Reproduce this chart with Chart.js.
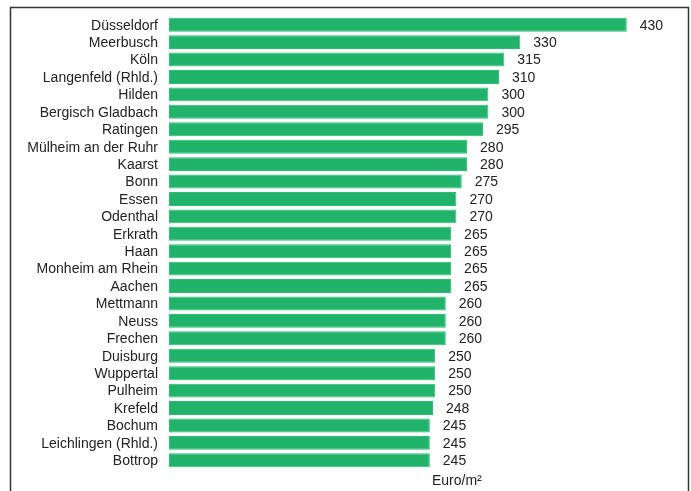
<!DOCTYPE html>
<html>
<head>
<meta charset="utf-8">
<script src="https://cdn.jsdelivr.net/npm/chart.js@4"></script>
<style>
  html, body { margin: 0; padding: 0; background: #fff; }
  #wrap { width: 691px; height: 491px; }
</style>
</head>
<body>
<div id="wrap"><canvas id="chart" width="691" height="491"></canvas></div>
<script>
const cities = ['Düsseldorf', 'Meerbusch', 'Köln', 'Langenfeld (Rhld.)', 'Hilden', 'Bergisch Gladbach',
  'Ratingen', 'Mülheim an der Ruhr', 'Kaarst', 'Bonn', 'Essen', 'Odenthal', 'Erkrath', 'Haan',
  'Monheim am Rhein', 'Aachen', 'Mettmann', 'Neuss', 'Frechen', 'Duisburg', 'Wuppertal', 'Pulheim',
  'Krefeld', 'Bochum', 'Leichlingen (Rhld.)', 'Bottrop'];
const prices = [430, 330, 315, 310, 300, 300, 295, 280, 280, 275, 270, 270, 265, 265,
  265, 265, 260, 260, 260, 250, 250, 250, 248, 245, 245, 245];
const unitLabel = 'Euro/m²';

const font = 'Liberation Sans, Arial, Helvetica, sans-serif';

// frame, value labels and unit
const extras = {
  id: 'extras',
  afterDatasetsDraw(chart) {
    const ctx = chart.ctx;
    const meta = chart.getDatasetMeta(0);
    ctx.save();
    ctx.fillStyle = '#222';
    ctx.font = '14px ' + font;
    ctx.textAlign = 'left';
    ctx.textBaseline = 'middle';
    meta.data.forEach((bar, i) => {
      ctx.fillText(prices[i], bar.x + 13, bar.y + 1);
    });
    ctx.fillText(unitLabel, 432, 481);

    ctx.strokeStyle = '#333';
    ctx.lineWidth = 1.5;
    ctx.beginPath();
    ctx.moveTo(10.5, 495);
    ctx.lineTo(10.5, 7.5);
    ctx.lineTo(688.5, 7.5);
    ctx.lineTo(688.5, 495);
    ctx.stroke();
    ctx.restore();
  }
};

new Chart(document.getElementById('chart'), {
  type: 'bar',
  data: {
    labels: cities,
    datasets: [{
      data: prices,
      backgroundColor: '#22b36b',
      borderColor: '#2bbf74',
      borderWidth: 1,
      borderSkipped: false,
      categoryPercentage: 0.8,
      barPercentage: 1
    }]
  },
  options: {
    indexAxis: 'y',
    responsive: false,
    animation: false,
    layout: {
      padding: { left: 0, right: 11, top: 16, bottom: 22 }
    },
    scales: {
      x: {
        display: false,
        min: 0,
        max: 480
      },
      y: {
        afterFit: (scale) => { scale.width = 169; },
        border: { display: false },
        grid: { display: false },
        ticks: {
          autoSkip: false,
          padding: 3,
          labelOffset: 1,
          color: '#222',
          font: { family: font, size: 14 }
        }
      }
    },
    plugins: {
      legend: { display: false },
      tooltip: { enabled: false }
    }
  },
  plugins: [extras]
});
</script>
</body>
</html>
